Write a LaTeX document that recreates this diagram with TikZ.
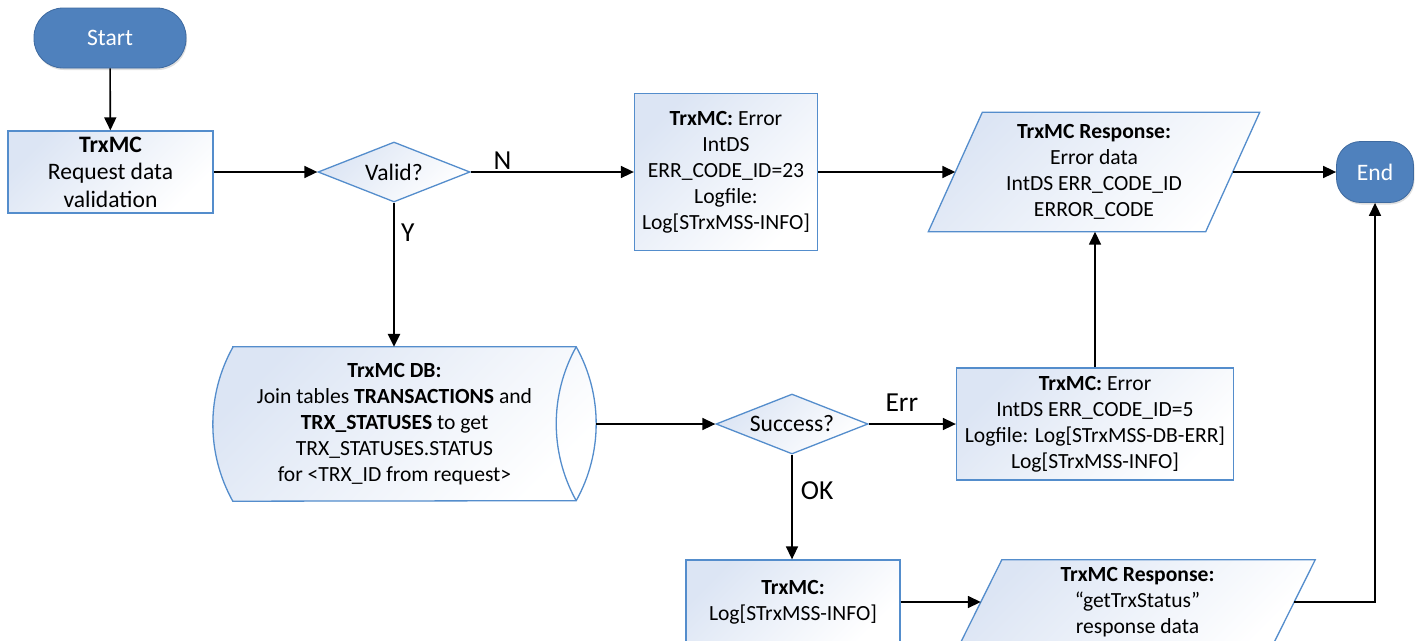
\documentclass[tikz,border=0pt]{standalone}
\usepackage{fontspec}
\setmainfont{Carlito}
\usetikzlibrary{arrows.meta,shapes.geometric,shadows,calc}

\definecolor{termfill}{RGB}{79,129,189}
\definecolor{termdraw}{RGB}{62,106,160}
\definecolor{boxdraw}{RGB}{84,141,204}
\definecolor{boxtint}{RGB}{220,229,244}

\pgfdeclarelayer{bg}
\pgfdeclarelayer{shapes}
\pgfsetlayers{bg,shapes,main}

\tikzset{
  base/.style={font=\fontsize{21.6}{26}\selectfont, align=center, inner sep=0pt},
  big/.style={font=\fontsize{23.6}{27.5}\selectfont},
  terminal/.style={base, big, rectangle, rounded corners=29pt, fill=termfill, draw=termdraw,
    line width=0.8pt, text=white,
    drop shadow={opacity=0.25, shadow xshift=1pt, shadow yshift=-2pt}},
  tinted/.style={top color=boxtint, bottom color=white, shading angle=45},
  process/.style={base, rectangle, draw=boxdraw, line width=1.3pt, tinted},
  decision/.style={base, big, diamond, aspect=2.5, draw=boxdraw, line width=1.3pt, tinted,
    minimum width=152pt, minimum height=60pt},
  textonly/.style={base, rectangle},
  outline/.style={draw=boxdraw, line width=1.3pt, tinted},
  flow/.style={line width=1.6pt, -{Triangle[length=13pt,width=12pt]}},
  lbl/.style={font=\fontsize{27.5}{30}\selectfont, inner sep=0pt},
  lensarc/.style={x radius=158.2pt, y radius=158.2pt},
}

\begin{document}
\begin{tikzpicture}[x=1pt,y=-1pt]
\begin{pgfonlayer}{bg}
  \fill[white] (0,0) rectangle (1420,640);
\end{pgfonlayer}
\useasboundingbox (0,0) rectangle (1420,640);

% terminals
\node[terminal, minimum width=152pt, minimum height=60pt] (start) at (110,38) {Start};
\node[terminal, rounded corners=24pt, minimum width=77pt, minimum height=61pt] (end) at (1375,172) {End};

% top row
\node[process, big, minimum width=205pt, minimum height=82pt] (req) at (110.5,172)
  {\textbf{TrxMC}\\Request data\\validation};
\node[decision] (valid) at (394,172) {Valid?};
\node[process, minimum width=183pt, minimum height=157pt] (err23) at (726,172)
  {\textbf{TrxMC:} Error\\IntDS\\ERR\_CODE\_ID=23\\Logfile:\\Log[STrxMSS-INFO]};
\node[textonly, minimum width=277pt, minimum height=119pt] (p1) at (1094,172)
  {\textbf{TrxMC Response:}\\Error data\\IntDS ERR\_CODE\_ID\\ERROR\_CODE};

% middle row
\node[textonly, minimum width=363pt, minimum height=154pt] (db) at (394.5,424)
  {\textbf{TrxMC DB:}\\Join tables \textbf{TRANSACTIONS} and\\\textbf{TRX\_STATUSES} to get\\TRX\_STATUSES.STATUS\\for <TRX\_ID from request>};
\node[decision] (succ) at (792,424) {Success?};
\node[process, minimum width=277pt, minimum height=112pt] (err5) at (1095,424)
  {\textbf{TrxMC:} Error\\IntDS ERR\_CODE\_ID=5\\Logfile: Log[STrxMSS-DB-ERR]\\Log[STrxMSS-INFO]};

% bottom row
\node[process, minimum width=214pt, minimum height=84pt] (ok4) at (793,602)
  {\textbf{TrxMC:}\\Log[STrxMSS-INFO]};
\node[textonly, minimum width=313pt, minimum height=84pt] (p2) at (1137.5,602)
  {\textbf{TrxMC Response:}\\“getTrxStatus”\\response data};

% outlines of the data shapes
\begin{pgfonlayer}{shapes}
  \path[outline] ($(db.north west)+(20,0)$) -- (db.north east)
    arc[start angle=29.1, end angle=-29.1, lensarc]
    -- ($(db.south west)+(20,0)$)
    arc[start angle=209.1, end angle=150.9, lensarc] -- cycle;
  \draw[draw=boxdraw, line width=1.3pt] (db.north east)
    arc[start angle=150.9, end angle=209.1, lensarc];
  \path[outline] ($(p1.north west)+(27,0)$) -- ($(p1.north east)+(27,0)$)
    -- ($(p1.south east)+(-27,0)$) -- ($(p1.south west)+(-27,0)$) -- cycle;
  \path[outline] ($(p2.north west)+(21,0)$) -- ($(p2.north east)+(21,0)$)
    -- ($(p2.south east)+(-21,0)$) -- ($(p2.south west)+(-21,0)$) -- cycle;
\end{pgfonlayer}

\coordinate (dbout) at ($(db.east)+(20,0)$);

% connectors
\draw[flow] (start) -- (req);
\draw[flow] (req) -- (valid);
\draw[flow] (valid) -- (err23) node[lbl, pos=0.195, above=2pt] (nlbl) {N};
\draw[flow, line width=2.4pt] (valid.south) -- (valid.south |- db.north)
  node[lbl, pos=0.207, right=6pt] (ylbl) {Y};
\draw[flow] (err23) -- (p1.west);
\draw[flow] (p1.east) -- (end);
\draw[flow] (dbout) -- (succ);
\draw[flow] (succ) -- (err5) node[lbl, pos=0.38, above=12pt] (errlbl) {Err};
\draw[flow] (err5.north) -- (err5.north |- p1.south);
\draw[flow] (succ.south) -- (succ.south |- ok4.north)
  node[lbl, pos=0.34, right=8pt] (oklbl) {OK};
\draw[flow] (ok4.east) -- (p2.west);
\draw[flow] (p2.east) -| (end.south);
\end{tikzpicture}
\end{document}
